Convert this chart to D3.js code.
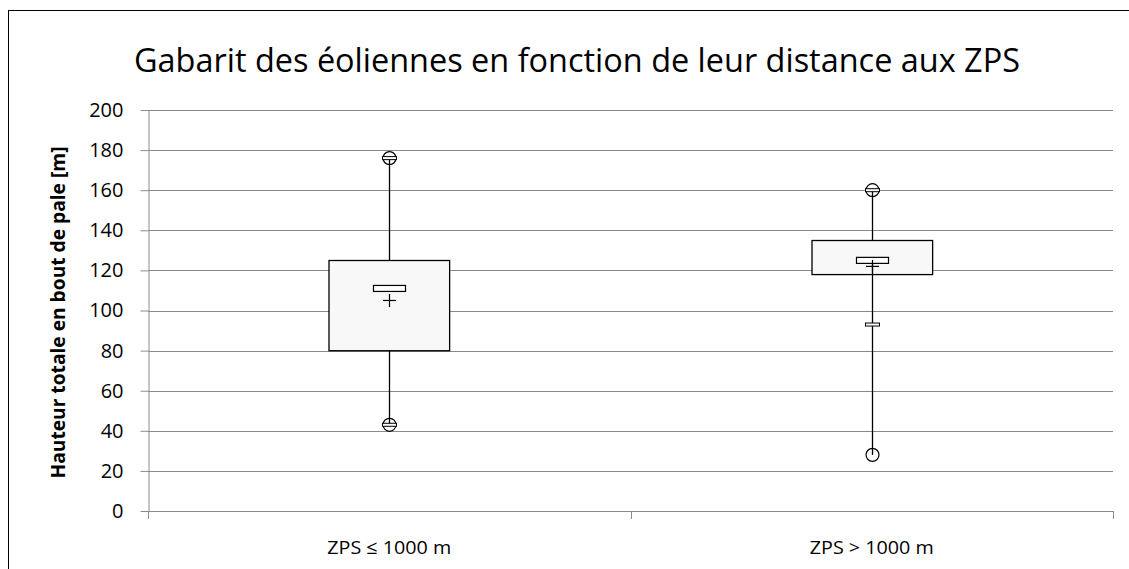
<!DOCTYPE html>
<html>
<head>
<meta charset="utf-8">
<script src="https://cdn.jsdelivr.net/npm/d3@7"></script>
<style>
  body { margin: 0; background: #fff; }
  svg { display: block; font-family: "Open Sans", "Noto Sans", sans-serif; }
</style>
</head>
<body>
<svg id="chart" width="1129" height="569"></svg>
<script>
// data
const categories = ["ZPS \u2264 1000 m", "ZPS > 1000 m"];
const q1 = [80, 118];
const q3 = [125, 135];
const median = [111, 125];
const mean = [105, 122];
const maxOut = [176, 160];      // circles
const minOut = [43, 28];
const capHigh = [176, 160];     // whisker end markers
const capLow = [43, 93];
const lowWhiskerTop = [80, 124];
const yTicks = [0, 20, 40, 60, 80, 100, 120, 140, 160, 180, 200];

const title = "Gabarit des éoliennes en fonction de leur distance aux ZPS";
const yTitle = "Hauteur totale en bout de pale [m]";

const svg = d3.select("#chart");
const m = {left: 148, right: 1113, top: 110, bottom: 511};
const font = '"Open Sans", "Noto Sans", sans-serif';

const x = d3.scaleBand().domain(categories).range([m.left, m.right]);
const y = d3.scaleLinear().domain([0, 200]).range([m.bottom, m.top]);

// outer frame
svg.append("rect")
    .attr("x", 8.5).attr("y", 10.5)
    .attr("width", 1130).attr("height", 580)
    .attr("fill", "none").attr("stroke", "#000").attr("stroke-width", 1);

svg.append("text")
    .attr("x", 577).attr("y", 72)
    .attr("text-anchor", "middle")
    .attr("font-size", 33)
    .attr("textLength", 886).attr("lengthAdjust", "spacingAndGlyphs")
    .text(title);

// grid
svg.append("g").selectAll("line")
    .data(yTicks.filter(d => d > 0))
    .join("line")
    .attr("x1", m.left).attr("x2", m.right)
    .attr("y1", d => Math.round(y(d)) + 0.5).attr("y2", d => Math.round(y(d)) + 0.5)
    .attr("stroke", "#8a8a8a");

// y axis
const yAxis = svg.append("g")
    .attr("transform", `translate(${m.left + 0.5},0)`)
    .call(d3.axisLeft(y).tickValues(yTicks).tickSize(8).tickPadding(17).tickSizeOuter(0))
    .attr("font-family", font).attr("font-size", 20);
yAxis.select(".domain").attr("stroke", "#8a8a8a");
yAxis.selectAll(".tick line").attr("stroke", "#8a8a8a");
yAxis.selectAll(".tick text").attr("fill", "#000");

// x axis
const xAxis = svg.append("g")
    .attr("transform", `translate(0,${m.bottom + 0.5})`)
    .call(d3.axisBottom(x).tickSize(0).tickPadding(29))
    .attr("font-family", font).attr("font-size", 19);
xAxis.select(".domain").remove();
xAxis.selectAll(".tick text").attr("fill", "#000")
    .attr("textLength", 124).attr("lengthAdjust", "spacingAndGlyphs");
svg.append("line")
    .attr("x1", m.left).attr("x2", m.right + 0.5)
    .attr("y1", m.bottom + 0.5).attr("y2", m.bottom + 0.5)
    .attr("stroke", "#8a8a8a");
svg.append("g").selectAll("line")
    .data([m.left, (m.left + m.right) / 2, m.right])
    .join("line")
    .attr("x1", d => Math.round(d) + 0.5).attr("x2", d => Math.round(d) + 0.5)
    .attr("y1", m.bottom).attr("y2", m.bottom + 8)
    .attr("stroke", "#8a8a8a");

svg.append("text")
    .attr("transform", `translate(65,${(m.top + m.bottom) / 2 + 2}) rotate(-90)`)
    .attr("text-anchor", "middle")
    .attr("font-size", 20).attr("font-weight", "bold")
    .attr("textLength", 332).attr("lengthAdjust", "spacingAndGlyphs")
    .text(yTitle);

// boxes
const boxW = x.bandwidth() * 0.25;
const cx = i => Math.round(x(categories[i]) + x.bandwidth() / 2) + 0.5;
const idx = categories.map((d, i) => i);

const g = svg.append("g");

// whiskers
g.selectAll(".wUp").data(idx).join("line")
    .attr("x1", cx).attr("x2", cx)
    .attr("y1", i => y(maxOut[i])).attr("y2", i => y(q3[i]))
    .attr("stroke", "#000").attr("stroke-width", 1.3);

g.selectAll(".box").data(idx).join("rect")
    .attr("x", i => Math.round(cx(i) - boxW / 2))
    .attr("y", i => Math.round(y(q3[i])) + 0.5)
    .attr("width", boxW)
    .attr("height", i => y(q1[i]) - y(q3[i]))
    .attr("fill", "#f8f8f8").attr("stroke", "#000").attr("stroke-width", 1.3);

g.selectAll(".wLow").data(idx).join("line")
    .attr("x1", cx).attr("x2", cx)
    .attr("y1", i => y(lowWhiskerTop[i])).attr("y2", i => y(minOut[i]))
    .attr("stroke", "#000").attr("stroke-width", 1.3);

// median
g.selectAll(".med").data(idx).join("rect")
    .attr("x", i => cx(i) - 16).attr("y", i => y(median[i]) - 3)
    .attr("width", 32).attr("height", 6)
    .attr("fill", "#fff").attr("stroke", "#000").attr("stroke-width", 1.2);

// mean (+)
const plus = g.selectAll(".mean").data(idx).join("g")
    .attr("transform", i => `translate(${cx(i)},${y(mean[i])})`);
plus.append("line").attr("x1", -6.5).attr("x2", 6.5).attr("stroke", "#000").attr("stroke-width", 1.2);
plus.append("line").attr("y1", -6.5).attr("y2", 6.5).attr("stroke", "#000").attr("stroke-width", 1.2);

// outlier circles
g.selectAll(".cMax").data(idx).join("circle")
    .attr("cx", cx).attr("cy", i => y(maxOut[i])).attr("r", 6.5)
    .attr("fill", "none").attr("stroke", "#000").attr("stroke-width", 1.2);
g.selectAll(".cMin").data(idx).join("circle")
    .attr("cx", cx).attr("cy", i => y(minOut[i])).attr("r", 6.5)
    .attr("fill", "none").attr("stroke", "#000").attr("stroke-width", 1.2);

// caps
g.selectAll(".capH").data(idx).join("rect")
    .attr("x", i => cx(i) - 7).attr("y", i => y(capHigh[i]) - 1.5)
    .attr("width", 14).attr("height", 3)
    .attr("fill", "#fff").attr("stroke", "#000").attr("stroke-width", 1);
g.selectAll(".capL").data(idx).join("rect")
    .attr("x", i => cx(i) - 7).attr("y", i => y(capLow[i]) - 1.5)
    .attr("width", 14).attr("height", 3)
    .attr("fill", "#fff").attr("stroke", "#000").attr("stroke-width", 1);
</script>
</body>
</html>
